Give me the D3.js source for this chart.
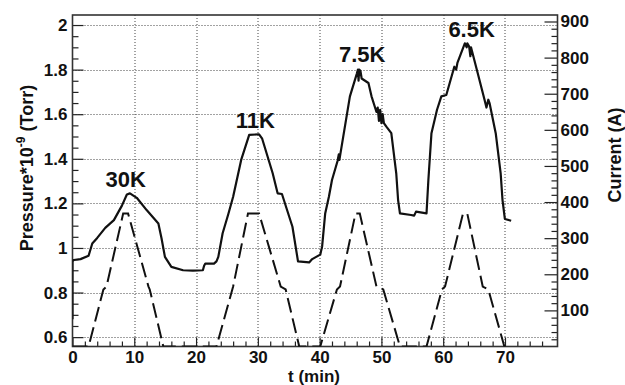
<!DOCTYPE html>
<html>
<head>
<meta charset="utf-8">
<script src="https://cdn.jsdelivr.net/npm/d3@7"></script>
<style>
  body { margin: 0; background: #fff; }
  svg { font-family: "Liberation Sans", Arial, sans-serif; font-weight: bold; }
  .tick text { font-size: 17px; font-weight: bold; fill: #111; }
  .domain { display: none; }
</style>
</head>
<body>
<svg id="chart" width="625" height="385"></svg>
<script>
// pressure trace (left axis), t in minutes
const timeP = [0, 0, 0.2, 1.3, 2.6, 3.2, 4.0, 5.3, 6.7, 8.0, 8.8, 9.3, 10.4, 12.0, 13.9, 14.4, 14.96, 16.0, 17.9, 19.5, 21.1, 21.3, 21.5, 22.9, 23.3, 23.6, 24.3, 25.2, 26.0, 27.3, 28.6, 30.2, 30.7, 32.4, 33.2, 33.9, 35.6, 36.5, 38.3,
  38.8, 40.1, 40.4, 40.9, 41.5, 42.0, 42.9, 43.1, 43.2, 44.9, 46.0, 46.2, 46.3, 46.4, 46.6, 46.8, 47.9, 48.4, 49.2, 49.4, 49.6, 49.8, 50.0, 50.2, 50.4, 50.8, 51.6, 52.4, 52.7, 53.0, 54.8, 55.3, 55.6, 57.3,
  57.6, 58.1, 59.0, 59.7, 60.5, 61.8, 62.1, 62.3, 63.5, 63.8, 63.9, 64.2, 64.4, 64.5, 65.6, 66.7, 67.0, 67.3, 67.5, 68.5, 69.3, 69.6, 69.98, 71.0];
const pressure = [0.68, 0.94, 0.946, 0.95, 0.965, 1.02, 1.045, 1.09, 1.125, 1.19, 1.24, 1.245, 1.225, 1.17, 1.11, 1.045, 0.96, 0.915, 0.90, 0.898, 0.90, 0.92, 0.93, 0.93, 0.94, 0.96, 1.066, 1.15, 1.23, 1.395, 1.507, 1.51, 1.49, 1.335, 1.245, 1.242, 1.095, 0.94, 0.935,
  0.95, 0.97, 1.006, 1.155, 1.23, 1.305, 1.39, 1.42, 1.395, 1.68, 1.78, 1.80, 1.75, 1.80, 1.795, 1.76, 1.74, 1.68, 1.61, 1.63, 1.57, 1.62, 1.56, 1.60, 1.56, 1.544, 1.515, 1.335, 1.215, 1.155, 1.148, 1.145, 1.163, 1.155,
  1.305, 1.515, 1.62, 1.68, 1.686, 1.813, 1.80, 1.83, 1.918, 1.90, 1.918, 1.903, 1.86, 1.90, 1.783, 1.664, 1.63, 1.665, 1.65, 1.515, 1.335, 1.215, 1.13, 1.122];

// magnet current (right axis), A
const timeI = [0, 2.6, 5.0, 5.5, 8.2, 9.0, 12.3, 12.5, 14.7, 23.3, 26.0, 28.4, 30.2, 33.7, 34.5, 36.7, 40.1, 42.8, 43.3, 45.8, 46.5, 49.2, 50.3, 53.0, 57.3, 59.8, 60.3, 63.2, 63.9, 66.4, 67.3, 69.9, 71.0];
const current = [0, 0, 158, 166, 368, 368, 166, 158, 0, 0, 166, 368, 368, 166, 158, 0, 0, 158, 166, 368, 368, 166, 158, 0, 0, 158, 166, 368, 368, 166, 158, 0, 0];

const peakLabels = ["30K", "11K", "7.5K", "6.5K"];
const peakT = [8.6, 29.6, 46.9, 64.6];
const peakP = [1.274, 1.538, 1.834, 1.946];

const xTicks = [0, 10, 20, 30, 40, 50, 60, 70];
const leftTicks = [0.6, 0.8, 1, 1.2, 1.4, 1.6, 1.8, 2];
const rightTicks = [100, 200, 300, 400, 500, 600, 700, 800, 900];

const margin = {top: 15, right: 67.5, bottom: 38.5, left: 72.5};
const W = 625, H = 385;
const iw = W - margin.left - margin.right, ih = H - margin.top - margin.bottom;

const svg = d3.select("#chart");
const g = svg.append("g").attr("transform", `translate(${margin.left},${margin.top})`);

const x = d3.scaleLinear().domain([0, 78.5]).range([0, iw]);
const y = d3.scaleLinear().domain([0.558, 2.045]).range([ih, 0]);
const y2 = d3.scaleLinear().domain([0, 918]).range([ih, 0]);

g.append("clipPath").attr("id", "clip").append("rect").attr("width", iw).attr("height", ih);

// dotted grid
const grid = g.append("g").attr("stroke", "#444").attr("stroke-width", 1).attr("stroke-dasharray", "1,2");
grid.selectAll(".gx").data(xTicks.filter(d => d > 0)).join("line")
  .attr("x1", d => Math.round(x(d)) + 0.5).attr("x2", d => Math.round(x(d)) + 0.5)
  .attr("y1", 0).attr("y2", ih);
grid.selectAll(".gy").data(leftTicks).join("line")
  .attr("y1", d => Math.round(y(d)) + 0.5).attr("y2", d => Math.round(y(d)) + 0.5)
  .attr("x1", 0).attr("x2", iw);

// axes (ticks point inward)
const xMinor = d3.range(2, 78, 2).filter(d => d % 10 !== 0);
g.append("g").attr("transform", `translate(0,${ih})`)
  .call(d3.axisBottom(x).tickValues(xMinor).tickSize(-5).tickFormat(""));
g.append("g").attr("transform", `translate(0,${ih})`)
  .call(d3.axisBottom(x).tickValues(xTicks).tickSize(-9).tickPadding(4).tickFormat(d3.format("d")));

const yMinor = d3.range(0.6, 2.04, 0.05).filter(d => Math.abs(d * 5 - Math.round(d * 5)) > 0.01);
g.append("g").call(d3.axisLeft(y).tickValues(yMinor).tickSize(-6).tickFormat(""));
g.append("g").call(d3.axisLeft(y).tickValues(leftTicks).tickSize(-11).tickPadding(5).tickFormat(d => d3.format("")(+d.toFixed(1))));

const iMinor = d3.range(20, 918, 20).filter(d => d % 100 !== 0);
g.append("g").attr("transform", `translate(${iw},0)`)
  .call(d3.axisRight(y2).tickValues(iMinor).tickSize(-6).tickFormat(""));
g.append("g").attr("transform", `translate(${iw},0)`)
  .call(d3.axisRight(y2).tickValues(rightTicks).tickSize(-13).tickPadding(3));

g.selectAll(".tick line").attr("stroke", "#222").attr("stroke-width", 1.2);

// frame
g.append("rect").attr("width", iw).attr("height", ih)
  .attr("fill", "none").attr("stroke", "#333").attr("stroke-width", 1.6);

// data lines
const plot = g.append("g").attr("clip-path", "url(#clip)");
plot.append("path")
  .datum(timeI.map((t, i) => [t, current[i]]))
  .attr("fill", "none").attr("stroke", "#111").attr("stroke-width", 2)
  .attr("stroke-dasharray", "15,6")
  .attr("d", d3.line().x(d => x(d[0])).y(d => y2(d[1])));
plot.append("path")
  .datum(timeP.map((t, i) => [t, pressure[i]]))
  .attr("fill", "none").attr("stroke", "#111").attr("stroke-width", 2.2)
  .attr("stroke-linejoin", "round")
  .attr("d", d3.line().x(d => x(d[0])).y(d => y(d[1])));

// peak annotations
g.selectAll(".peak").data(peakLabels).join("text")
  .attr("x", (d, i) => x(peakT[i])).attr("y", (d, i) => y(peakP[i]))
  .attr("text-anchor", "middle").attr("font-size", 22).attr("fill", "#111")
  .text(d => d);

// axis titles
svg.append("text").attr("x", 314).attr("y", 382).attr("text-anchor", "middle")
  .attr("font-size", 17).attr("fill", "#111").text("t (min)");

const yt = svg.append("text").attr("transform", "translate(33,168) rotate(-90)")
  .attr("text-anchor", "middle").attr("font-size", 18).attr("fill", "#111");
yt.append("tspan").text("Pressure*10");
yt.append("tspan").attr("dy", -8).attr("font-size", 12).text("-9");
yt.append("tspan").attr("dy", 8).text("  (Torr)");

svg.append("text").attr("transform", "translate(621,155) rotate(-90)")
  .attr("text-anchor", "middle").attr("font-size", 18).attr("fill", "#111").text("Current (A)");
</script>
</body>
</html>
